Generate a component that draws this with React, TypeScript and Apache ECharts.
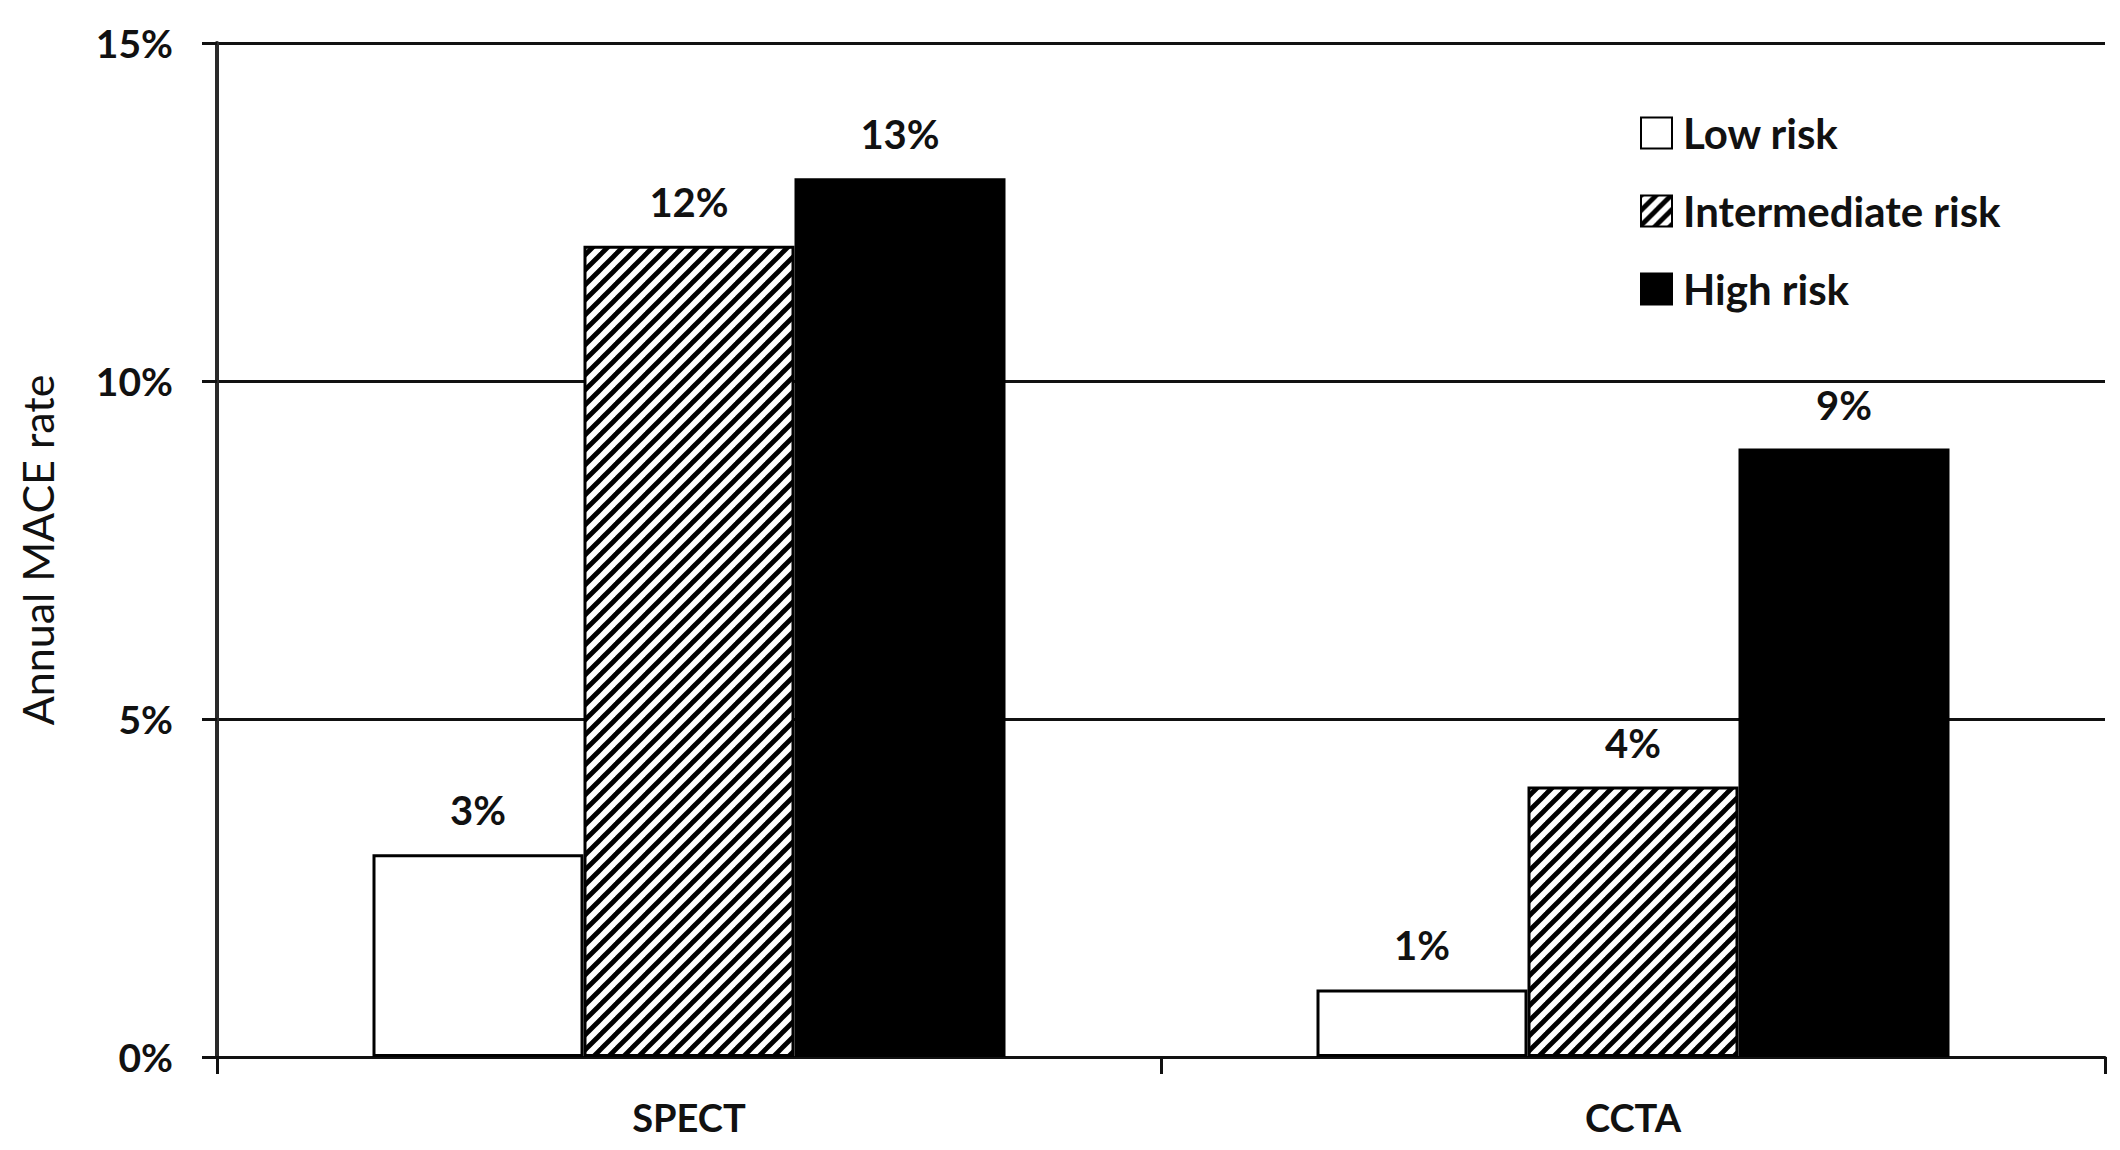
import React, { useEffect, useRef } from "react";
import * as echarts from "echarts";

const categories = ["SPECT", "CCTA"];
const seriesNames = ["Low risk", "Intermediate risk", "High risk"];
const lowRisk = [3, 1];
const intermediateRisk = [12, 4];
const highRisk = [13, 9];
const yMax = 15;
const yInterval = 5;
const yAxisTitle = "Annual MACE rate";

const FONT = "Lato";

function makeHatch(): HTMLCanvasElement {
  const s = 15;
  const c = document.createElement("canvas");
  c.width = s;
  c.height = s;
  const ctx = c.getContext("2d")!;
  ctx.fillStyle = "#ffffff";
  ctx.fillRect(0, 0, s, s);
  ctx.strokeStyle = "#000000";
  ctx.lineWidth = 4.8;
  ctx.lineCap = "square";
  for (const k of [0, s, 2 * s]) {
    ctx.beginPath();
    ctx.moveTo(k + 2, -2);
    ctx.lineTo(-2, k + 2);
    ctx.stroke();
  }
  return c;
}

export default function App() {
  const ref = useRef<HTMLDivElement>(null);
  useEffect(() => {
    if (!ref.current) return;
    const chart = echarts.init(ref.current, null, { renderer: "svg" });
    const hatch = makeHatch();
    const labelStyle = {
      show: true,
      position: "top" as const,
      distance: 24,
      formatter: (p: any) => p.value + "%",
      fontFamily: FONT,
      fontWeight: "bold" as const,
      fontSize: 40,
      color: "#111",
    };
    const fills = ["#ffffff", { image: hatch, repeat: "repeat" }, "#000000"];
    const data = [lowRisk, intermediateRisk, highRisk];
    chart.setOption({
      animation: false,
      backgroundColor: "#ffffff",
      grid: { left: 217, right: 15, top: 43, bottom: 93 },
      legend: {
        orient: "vertical",
        left: 1640,
        top: 112,
        padding: 0,
        itemWidth: 31,
        itemHeight: 31,
        itemGap: 36,
        icon: "rect",
        data: seriesNames,
        textStyle: {
          fontFamily: FONT,
          fontWeight: "bold",
          fontSize: 42,
          color: "#111",
          padding: [0, 0, 0, 6],
        },
      },
      xAxis: {
        type: "category",
        data: categories,
        axisLine: { lineStyle: { color: "#111", width: 3 } },
        axisTick: { show: true, length: 17, lineStyle: { color: "#111", width: 3 } },
        axisLabel: {
          margin: 41,
          fontFamily: FONT,
          fontWeight: "bold",
          fontSize: 38,
          color: "#111",
        },
      },
      yAxis: {
        type: "value",
        min: 0,
        max: yMax,
        interval: yInterval,
        name: yAxisTitle,
        nameLocation: "middle",
        nameGap: 158,
        nameTextStyle: { fontFamily: FONT, fontSize: 43, color: "#111" },
        axisLine: { show: true, lineStyle: { color: "#2a2a2a", width: 4 } },
        axisTick: { show: true, length: 15, lineStyle: { color: "#111", width: 3 } },
        axisLabel: {
          margin: 44,
          formatter: (v: number) => v + "%",
          fontFamily: FONT,
          fontWeight: "bold",
          fontSize: 39,
          color: "#111",
        },
        splitLine: { show: true, lineStyle: { color: "#111", width: 3 } },
      },
      series: seriesNames.map((name, i) => ({
        name,
        type: "bar",
        data: data[i],
        barWidth: 211,
        barGap: "0%",
        itemStyle: { color: fills[i], borderColor: "#000", borderWidth: 3 },
        label: labelStyle,
      })),
    });
    return () => chart.dispose();
  }, []);
  return (
    <div
      ref={ref}
      style={{ position: "absolute", left: 0, top: 0, width: 2120, height: 1150 }}
    />
  );
}
